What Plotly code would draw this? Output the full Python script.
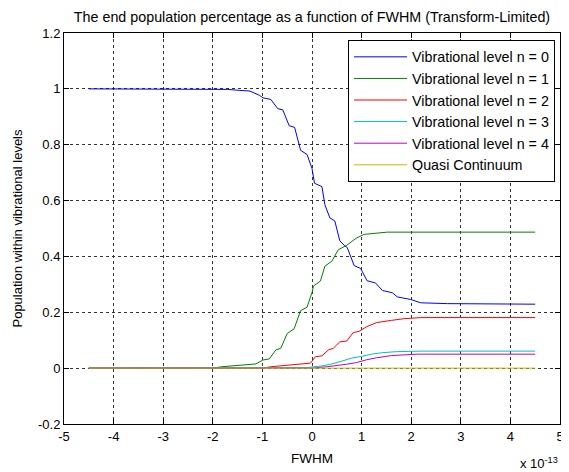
import plotly.graph_objects as go

# FWHM values in units of 1e-13
x_n0 = [-4.5, -1.9, -1.7, -1.49, -1.25, -1.06, -0.99, -0.83, -0.69, -0.59, -0.46, -0.35, -0.23, -0.10,
        0.0, 0.05, 0.20, 0.26, 0.36, 0.46, 0.56, 0.66, 0.71, 0.85, 0.98, 1.11, 1.28, 1.42, 1.62, 1.72,
        1.99, 2.19, 2.73, 4.5]
y_n0 = [1.0, 1.0, 0.998, 0.995, 0.992, 0.977, 0.968, 0.962, 0.929, 0.925, 0.868, 0.862, 0.780, 0.765,
        0.715, 0.662, 0.650, 0.585, 0.538, 0.527, 0.456, 0.438, 0.432, 0.367, 0.357, 0.313, 0.305, 0.278,
        0.270, 0.255, 0.246, 0.234, 0.231, 0.229]

x_n1 = [-4.5, -2.0, -1.82, -1.36, -1.13, -0.99, -0.86, -0.73, -0.63, -0.50, -0.36, -0.23, -0.10, 0.0,
        0.03, 0.17, 0.26, 0.40, 0.53, 0.70, 0.89, 1.05, 1.28, 1.52, 4.5]
y_n1 = [0.0, 0.0, 0.005, 0.012, 0.015, 0.029, 0.033, 0.065, 0.071, 0.124, 0.141, 0.206, 0.218, 0.271,
        0.294, 0.312, 0.365, 0.383, 0.424, 0.440, 0.465, 0.479, 0.483, 0.487, 0.487]

x_n2 = [-4.5, -1.0, -0.83, -0.36, -0.03, 0.07, 0.20, 0.33, 0.43, 0.56, 0.70, 0.83, 0.95, 1.1, 1.3,
        1.6, 1.85, 2.2, 4.5]
y_n2 = [0.0, 0.0, 0.005, 0.012, 0.018, 0.041, 0.044, 0.065, 0.071, 0.094, 0.097, 0.127, 0.132, 0.148,
        0.163, 0.171, 0.177, 0.181, 0.181]

x_n3 = [-4.5, -0.5, -0.1, 0.2, 0.4, 0.6, 0.8, 1.0, 1.2, 1.4, 1.7, 2.2, 4.5]
y_n3 = [0.0, 0.0, 0.002, 0.008, 0.015, 0.025, 0.036, 0.042, 0.050, 0.055, 0.059, 0.061, 0.061]

x_n4 = [-4.5, 0.0, 0.3, 0.5, 0.7, 0.9, 1.1, 1.3, 1.6, 2.1, 4.5]
y_n4 = [0.0, 0.0, 0.005, 0.009, 0.014, 0.020, 0.030, 0.037, 0.045, 0.050, 0.050]

x_qc = [-4.5, 4.5]
y_qc = [0.0, 0.0]

series_names = ["Vibrational level n = 0", "Vibrational level n = 1", "Vibrational level n = 2",
                "Vibrational level n = 3", "Vibrational level n = 4", "Quasi Continuum"]
colors = ["#0000ff", "#008000", "#ff0000", "#00bfbf", "#bf00bf", "#bfbf00"]

x_tickvals = [-5, -4, -3, -2, -1, 0, 1, 2, 3, 4, 5]
x_ticktext = ["-5", "-4", "-3", "-2", "-1", "0", "1", "2", "3", "4", "5"]
y_tickvals = [-0.2, 0, 0.2, 0.4, 0.6, 0.8, 1.0, 1.2]
y_ticktext = ["-0.2", "0", "0.2", "0.4", "0.6", "0.8", "1", "1.2"]

FONT = "Arial, Liberation Sans, sans-serif"

fig = go.Figure()
xs = [x_n0, x_n1, x_n2, x_n3, x_n4, x_qc]
ys = [y_n0, y_n1, y_n2, y_n3, y_n4, y_qc]
for i in range(6):
    fig.add_trace(go.Scatter(x=xs[i], y=ys[i], mode="lines", name=series_names[i],
                             line=dict(color=colors[i], width=1)))

axis_common = dict(showline=True, linecolor="black", linewidth=1, mirror="ticks",
                   ticks="inside", ticklen=5, tickcolor="black", showgrid=True,
                   gridcolor="#333333", gridwidth=1, griddash="3px,3px", zeroline=False,
                   tickfont=dict(family=FONT, size=13, color="black"))

W, H = 561, 464
fig.update_layout(
    width=W, height=H,
    margin=dict(l=56, r=5, t=25, b=48),
    paper_bgcolor="white", plot_bgcolor="white",
    font=dict(family=FONT, size=13, color="black"),
    title=dict(text="The end population percentage as a function of FWHM (Transform-Limited)",
               x=0.5, xref="paper", xanchor="center", y=1 - 9 / H, yanchor="middle",
               font=dict(family=FONT, size=14.3, color="black")),
    xaxis=dict(range=[-5, 5], tickvals=x_tickvals, ticktext=x_ticktext,
               title=dict(text="FWHM", font=dict(family=FONT, size=13.5), standoff=10),
               **axis_common),
    yaxis=dict(range=[-0.2, 1.2], tickvals=y_tickvals, ticktext=y_ticktext,
               title=dict(text="Population within vibrational levels", font=dict(family=FONT, size=13),
                          standoff=12),
               **axis_common),
    legend=dict(x=0.99, y=0.982, xanchor="right", yanchor="top",
                bgcolor="white", bordercolor="black", borderwidth=1,
                font=dict(family=FONT, size=14.3, color="black"),
                itemwidth=53),
    showlegend=True,
)

fig.add_annotation(text="x 10<sup>-13</sup>", xref="paper", yref="paper", x=1.0, y=-0.125,
                   xanchor="right", yanchor="bottom", showarrow=False,
                   font=dict(family=FONT, size=13, color="black"))

fig.write_html("out.html")
